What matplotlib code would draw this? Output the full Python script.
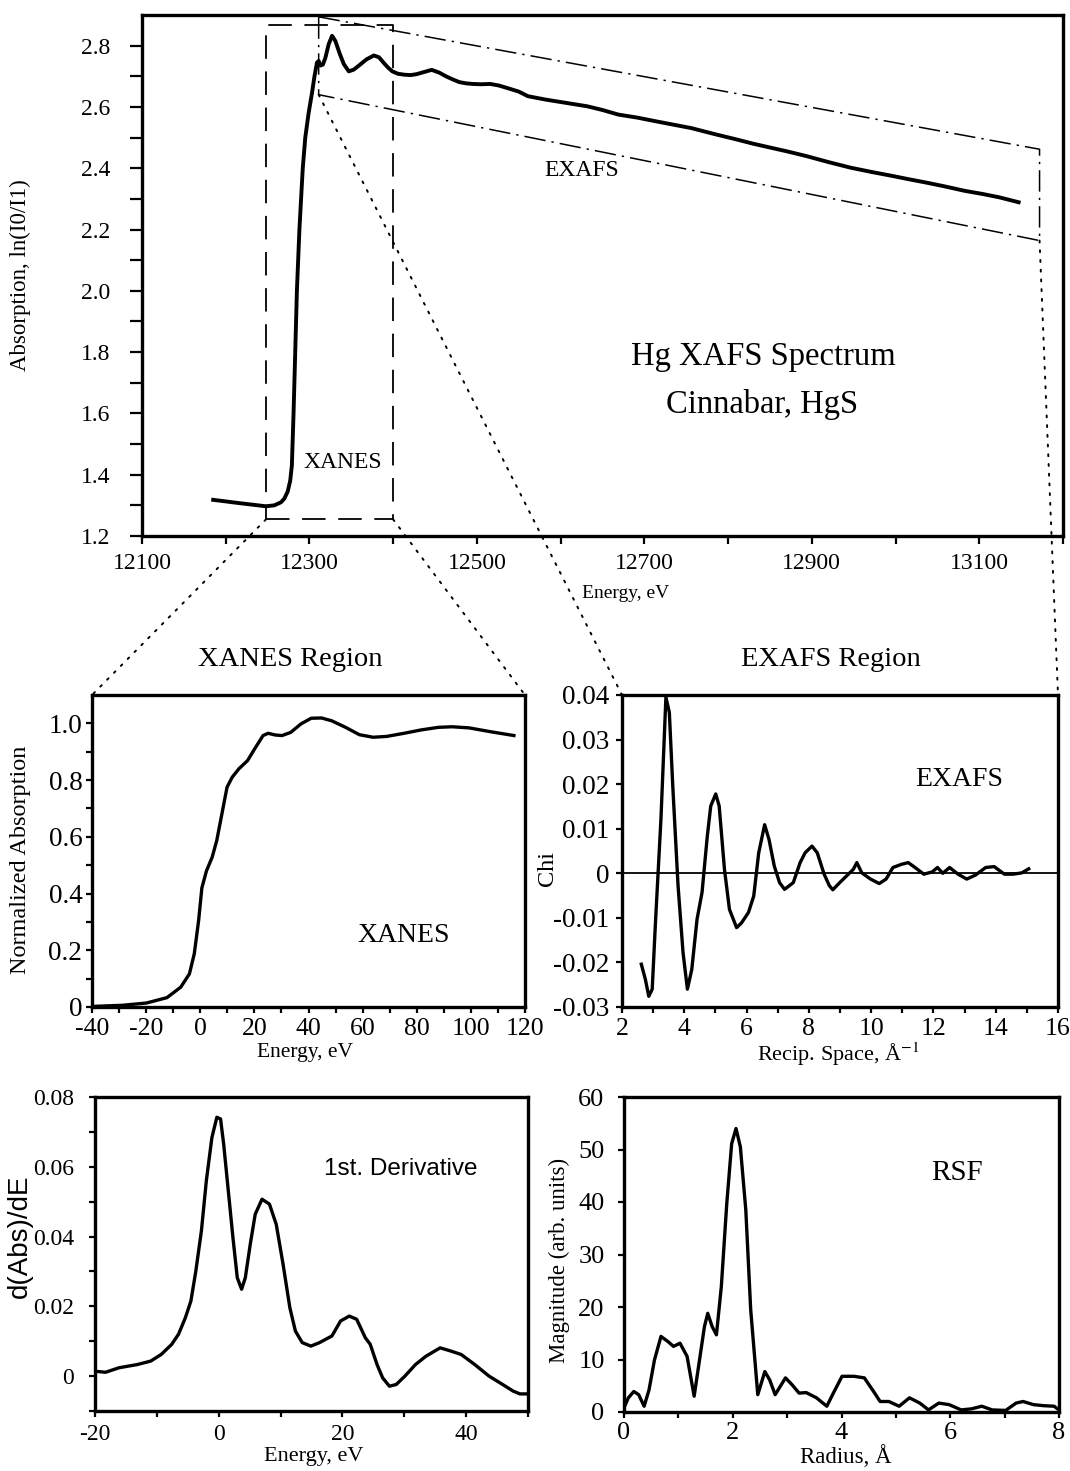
import matplotlib
matplotlib.use('Agg')
import matplotlib.pyplot as plt
from matplotlib.patches import ConnectionPatch
import numpy as np

plt.rcParams['font.family'] = ['Liberation Serif', 'DejaVu Serif']
plt.rcParams['mathtext.fontset'] = 'stix'

# ---------------- data ----------------
# Full Hg L3-edge spectrum (Energy eV, ln(I0/I1))
spec_E = [12185, 12217, 12248, 12258, 12266, 12270, 12274, 12277, 12279, 12281, 12283,
          12285, 12288, 12292, 12295, 12299, 12303, 12306, 12309, 12311, 12313, 12316,
          12319, 12323, 12327, 12331, 12336, 12341, 12347, 12353, 12360, 12368, 12377,
          12383, 12389, 12394, 12399, 12406, 12414, 12421, 12428, 12437, 12446, 12455,
          12463, 12471, 12479, 12487, 12495, 12505, 12516, 12526, 12536, 12550, 12561,
          12582, 12607, 12632, 12650, 12669, 12692, 12714, 12735, 12756, 12783, 12810,
          12830, 12851, 12872, 12893, 12920, 12946, 12971, 12996, 13016, 13037, 13060,
          13083, 13104, 13124, 13147]
spec_A = [1.318, 1.307, 1.297, 1.300, 1.310, 1.322, 1.345, 1.380, 1.430, 1.600, 1.800,
          2.000, 2.200, 2.400, 2.500, 2.580, 2.645, 2.700, 2.745, 2.750, 2.735, 2.738,
          2.760, 2.805, 2.832, 2.815, 2.775, 2.740, 2.716, 2.722, 2.737, 2.755, 2.768,
          2.762, 2.743, 2.728, 2.716, 2.708, 2.705, 2.704, 2.707, 2.714, 2.721, 2.712,
          2.700, 2.690, 2.681, 2.677, 2.675, 2.674, 2.675, 2.670, 2.662, 2.650, 2.635,
          2.624, 2.613, 2.602, 2.590, 2.575, 2.565, 2.553, 2.542, 2.531, 2.512, 2.494,
          2.480, 2.467, 2.454, 2.440, 2.420, 2.402, 2.388, 2.375, 2.364, 2.353, 2.340,
          2.326, 2.316, 2.305, 2.289]

# XANES region (relative energy, normalized absorption)
xan_E = [-40.0, -28.8, -19.9, -12.3, -7.2, -4.0, -2.2, -0.6, 0.6, 2.3, 4.4, 6.1, 8.0, 9.9,
         11.8, 14.3, 17.5, 20.1, 23.2, 25.1, 27.7, 30.2, 33.4, 37.2, 41.0, 44.8, 48.6,
         53.7, 58.8, 63.9, 68.9, 75.3, 81.7, 88.0, 93.1, 99.4, 107.0, 115.9]
xan_A = [0.002, 0.006, 0.014, 0.033, 0.070, 0.117, 0.188, 0.305, 0.420, 0.480, 0.528,
         0.587, 0.681, 0.775, 0.810, 0.840, 0.869, 0.910, 0.957, 0.965, 0.959, 0.957,
         0.968, 0.998, 1.018, 1.019, 1.009, 0.986, 0.960, 0.951, 0.954, 0.965, 0.977,
         0.986, 0.988, 0.984, 0.971, 0.957]

# EXAFS chi(k)
exa_k = [2.62, 2.75, 2.86, 2.97, 3.08, 3.25, 3.41, 3.52, 3.63, 3.80, 3.96, 4.10, 4.24,
         4.41, 4.57, 4.74, 4.85, 5.01, 5.12, 5.29, 5.45, 5.68, 5.84, 6.06, 6.23, 6.39,
         6.58, 6.72, 6.89, 7.06, 7.22, 7.50, 7.72, 7.88, 8.10, 8.27, 8.49, 8.66, 8.77,
         8.99, 9.21, 9.43, 9.54, 9.70, 9.98, 10.26, 10.48, 10.70, 10.97, 11.19, 11.41,
         11.69, 11.96, 12.13, 12.30, 12.52, 12.79, 13.07, 13.35, 13.68, 13.95, 14.28,
         14.56, 14.84, 15.06]
exa_chi = [-0.0204, -0.0238, -0.0276, -0.0260, -0.0103, 0.0121, 0.0395, 0.0361, 0.0196,
           -0.0028, -0.0178, -0.0260, -0.0216, -0.0103, -0.0043, 0.0084, 0.0151, 0.0178,
           0.0151, 0.0009, -0.0081, -0.0122, -0.0111, -0.0088, -0.0051, 0.0046, 0.0109,
           0.0076, 0.0016, -0.0021, -0.0036, -0.0021, 0.0024, 0.0046, 0.0061, 0.0046,
           -0.0002, -0.0028, -0.0037, -0.0021, -0.0006, 0.0009, 0.0024, 0.0001, -0.0013,
           -0.0023, -0.0013, 0.0013, 0.0020, 0.0024, 0.0013, -0.0002, 0.0003, 0.0013,
           0.0000, 0.0013, -0.0002, -0.0013, -0.0004, 0.0013, 0.0015, -0.0002, -0.0002,
           0.0001, 0.0010]

# First derivative of XANES
der_E = [-20.0, -18.3, -16.1, -13.2, -11.0, -9.3, -7.6, -6.5, -5.4, -4.5, -3.7, -2.8, -2.0,
         -1.1, -0.3, 0.3, 0.8, 1.5, 2.3, 3.0, 3.7, 4.3, 5.1, 5.9, 7.0, 8.2, 9.3, 10.4,
         11.5, 12.4, 13.5, 14.9, 16.3, 18.3, 19.7, 21.1, 22.3, 23.7, 24.5, 25.6, 26.5,
         27.6, 28.7, 30.1, 31.8, 33.5, 35.8, 37.5, 39.2, 41.4, 43.7, 45.9, 47.6, 48.7, 50.0]
der_D = [0.0014, 0.0011, 0.0024, 0.0033, 0.0043, 0.0062, 0.0091, 0.0120, 0.0167, 0.0215,
         0.0301, 0.0416, 0.0560, 0.0684, 0.0742, 0.0737, 0.0665, 0.0540, 0.0397, 0.0282,
         0.0249, 0.0282, 0.0378, 0.0464, 0.0507, 0.0493, 0.0435, 0.0321, 0.0196, 0.0129,
         0.0096, 0.0086, 0.0096, 0.0115, 0.0158, 0.0172, 0.0163, 0.0110, 0.0091, 0.0033,
         -0.0005, -0.0029, -0.0024, 0.0000, 0.0033, 0.0057, 0.0081, 0.0072, 0.0062,
         0.0033, 0.0000, -0.0024, -0.0043, -0.0051, -0.0051]

# Radial structure function
rsf_R = [0.00, 0.08, 0.18, 0.27, 0.37, 0.46, 0.56, 0.68, 0.81, 0.91, 1.03, 1.16, 1.29,
         1.38, 1.48, 1.54, 1.62, 1.70, 1.79, 1.89, 1.98, 2.06, 2.14, 2.24, 2.33, 2.46,
         2.59, 2.68, 2.78, 2.97, 3.09, 3.22, 3.35, 3.54, 3.73, 3.85, 4.01, 4.23, 4.42,
         4.61, 4.71, 4.87, 5.06, 5.25, 5.44, 5.60, 5.79, 5.98, 6.20, 6.39, 6.58, 6.77,
         7.02, 7.21, 7.34, 7.53, 7.72, 7.91, 8.00]
rsf_M = [0.8, 2.7, 3.9, 3.3, 1.1, 4.2, 9.9, 14.4, 13.4, 12.5, 13.1, 10.6, 3.0, 9.3, 16.3,
         18.8, 16.3, 14.7, 23.9, 39.7, 51.1, 54.0, 50.5, 38.5, 19.5, 3.3, 7.7, 6.1, 3.3,
         6.5, 5.2, 3.6, 3.7, 2.7, 1.1, 3.6, 6.8, 6.8, 6.5, 3.6, 2.0, 2.0, 1.1, 2.7, 1.7,
         0.4, 1.7, 1.4, 0.4, 0.6, 1.1, 0.4, 0.3, 1.7, 2.0, 1.4, 1.2, 1.1, 0.4]

# region outlines on the overview spectrum
xanes_box_E = [12248, 12400]
xanes_box_A = [1.254, 2.867]
exafs_E = [12311, 13172]
exafs_top_A = [2.894, 2.462]
exafs_bot_A = [2.640, 2.164]

# ---------------- figure ----------------
W, H = 1070, 1471
fig = plt.figure(figsize=(W / 100, H / 100), dpi=100)


def rect(l, t, r, b):
    return [l / W, 1 - b / H, (r - l) / W, (b - t) / H]


def fp(x, y):
    return (x / W, 1 - y / H)


def style(ax, xfs, yfs, xlen, ylen, xpad, ypad, lw=2.4):
    for s in ax.spines.values():
        s.set_linewidth(lw)
    ax.tick_params(direction='out', width=1.6)
    ax.tick_params(axis='x', length=xlen, pad=xpad, labelsize=xfs)
    ax.tick_params(axis='y', length=ylen, pad=ypad, labelsize=yfs)


ax0 = fig.add_axes(rect(142, 15, 1063, 536))
ax1 = fig.add_axes(rect(92, 695, 525, 1007))
ax2 = fig.add_axes(rect(622, 695, 1058, 1007))
ax3 = fig.add_axes(rect(95, 1097, 528, 1411))
ax4 = fig.add_axes(rect(624, 1097, 1059, 1412))

# ---- top overview ----
ax0.plot(spec_E, spec_A, color='k', lw=2.8, solid_joinstyle='round')
ax0.set_xlim(12100, 13200)
ax0.set_ylim(1.2, 2.9)
xt = list(range(12100, 13201, 100))
ax0.set_xticks(xt)
ax0.set_xticklabels([str(v) if (v - 12100) % 200 == 0 and v < 13200 else '' for v in xt])
yt = np.round(np.arange(1.2, 2.81, 0.1), 1)
ax0.set_yticks(yt)
ax0.set_yticklabels(['%.1f' % v if round(v * 10) % 2 == 0 else '' for v in yt])
style(ax0, 17, 17, 6, 8.5, 6, 14)

# XANES dashed box
dash = (0, (13, 7))
bx, by = xanes_box_E, xanes_box_A
ax0.plot([bx[0], bx[1], bx[1], bx[0], bx[0]], [by[0], by[0], by[1], by[1], by[0]],
         color='k', lw=1.3, ls=dash)
# EXAFS dash-dot parallelogram
dd = (0, (14, 4, 1.5, 4))
ax0.plot([exafs_E[0], exafs_E[1], exafs_E[1], exafs_E[0], exafs_E[0]],
         [exafs_top_A[0], exafs_top_A[1], exafs_bot_A[1], exafs_bot_A[0], exafs_top_A[0]],
         color='k', lw=1.1, ls=dd)

# ---- XANES panel ----
ax1.plot(xan_E, xan_A, color='k', lw=2.4)
ax1.set_xlim(-40, 120)
ax1.set_ylim(0, 1.1)
xt = list(range(-40, 121, 10))
ax1.set_xticks(xt)
ax1.set_xticklabels([str(v) if v % 20 == 0 else '' for v in xt])
yt = np.round(np.arange(0, 1.01, 0.1), 1)
ax1.set_yticks(yt)
ax1.set_yticklabels(['0' if v == 0 else ('%.1f' % v if round(v * 10) % 2 == 0 else '') for v in yt])
style(ax1, 18.5, 19.5, 4, 4, 4, 3)

# ---- EXAFS panel ----
ax2.axhline(0, color='k', lw=1.3)
ax2.plot(exa_k, exa_chi, color='k', lw=2.4)
ax2.set_xlim(2, 16)
ax2.set_ylim(-0.03, 0.04)
xt = list(range(2, 17))
ax2.set_xticks(xt)
ax2.set_xticklabels([str(v) if v % 2 == 0 else '' for v in xt])
yt = np.round(np.arange(-0.03, 0.041, 0.01), 2)
ax2.set_yticks(yt)
ax2.set_yticklabels(['0' if v == 0 else '%.2f' % v for v in yt])
style(ax2, 18.5, 19.5, 4, 4, 4, 5)

# ---- derivative panel ----
ax3.plot(der_E, der_D, color='k', lw=2.4)
ax3.set_xlim(-20, 50)
ax3.set_ylim(-0.01, 0.08)
xt = list(range(-20, 51, 10))
ax3.set_xticks(xt)
ax3.set_xticklabels([str(v) if v % 20 == 0 else '' for v in xt])
yt = np.round(np.arange(-0.01, 0.081, 0.01), 2)
ax3.set_yticks(yt)
ax3.set_yticklabels(['0' if v == 0 else ('%.2f' % v if v > 0 and round(v * 100) % 2 == 0 else '') for v in yt])
style(ax3, 17, 17, 4, 4, 5, 11)

# ---- RSF panel ----
ax4.plot(rsf_R, rsf_M, color='k', lw=2.4)
ax4.set_xlim(0, 8)
ax4.set_ylim(0, 60)
xt = list(range(0, 9))
ax4.set_xticks(xt)
ax4.set_xticklabels([str(v) if v % 2 == 0 else '' for v in xt])
ax4.set_yticks(range(0, 61, 10))
style(ax4, 19, 19, 4, 4, 3, 10)

# ---- dotted zoom connectors ----
dot = (0, (1, 4))
for xyA, axB, xyB in [((xanes_box_E[0], xanes_box_A[0]), ax1, (0, 1)),
                      ((xanes_box_E[1], xanes_box_A[0]), ax1, (1, 1)),
                      ((exafs_E[0], exafs_bot_A[0]), ax2, (0, 1)),
                      ((exafs_E[1], exafs_bot_A[1]), ax2, (1, 1))]:
    cp = ConnectionPatch(xyA=xyA, coordsA='data', axesA=ax0,
                         xyB=xyB, coordsB='axes fraction', axesB=axB,
                         color='k', lw=1.4, ls=dot)
    fig.add_artist(cp)

# ---- texts ----
SANS = ['Liberation Sans', 'DejaVu Sans']


def ftext(x, y, s, size, rot=0, family=None):
    kw = {}
    if family:
        kw['family'] = family
    fig.text(*fp(x, y), s, fontsize=size, rotation=rot, ha='center', va='center', **kw)


ftext(20, 275, 'Absorption, ln(I0/I1)', 16.5, 90)
ftext(626, 594, 'Energy, eV', 14)
ftext(343, 462, 'XANES', 17)
ftext(582, 170, 'EXAFS', 17)
ftext(763, 357, 'Hg XAFS Spectrum', 23.5)
ftext(762, 405, 'Cinnabar, HgS', 23.5)

ftext(290, 660, 'XANES Region', 20.5)
ftext(831, 660, 'EXAFS Region', 20.5)

ftext(21, 860, 'Normalized Absorption', 17.5, 90)
ftext(305, 1052, 'Energy, eV', 15.5)
ftext(404, 936, 'XANES', 20)

ftext(547, 868, 'Chi', 17.5, 90)
ftext(838, 1054, r'Recip. Space, Å$^{-1}$', 16)
ftext(959, 779, 'EXAFS', 20)

ftext(20, 1236, 'd(Abs)/dE', 20, 90, family=SANS)
ftext(314, 1457, 'Energy, eV', 16)
ftext(401, 1169, '1st. Derivative', 17.5, family=SANS)

ftext(559, 1260, 'Magnitude (arb. units)', 16.5, 90)
ftext(846, 1457, 'Radius, Å', 16.5)
ftext(957, 1173, 'RSF', 21)

fig.savefig('out.png', dpi=100)
